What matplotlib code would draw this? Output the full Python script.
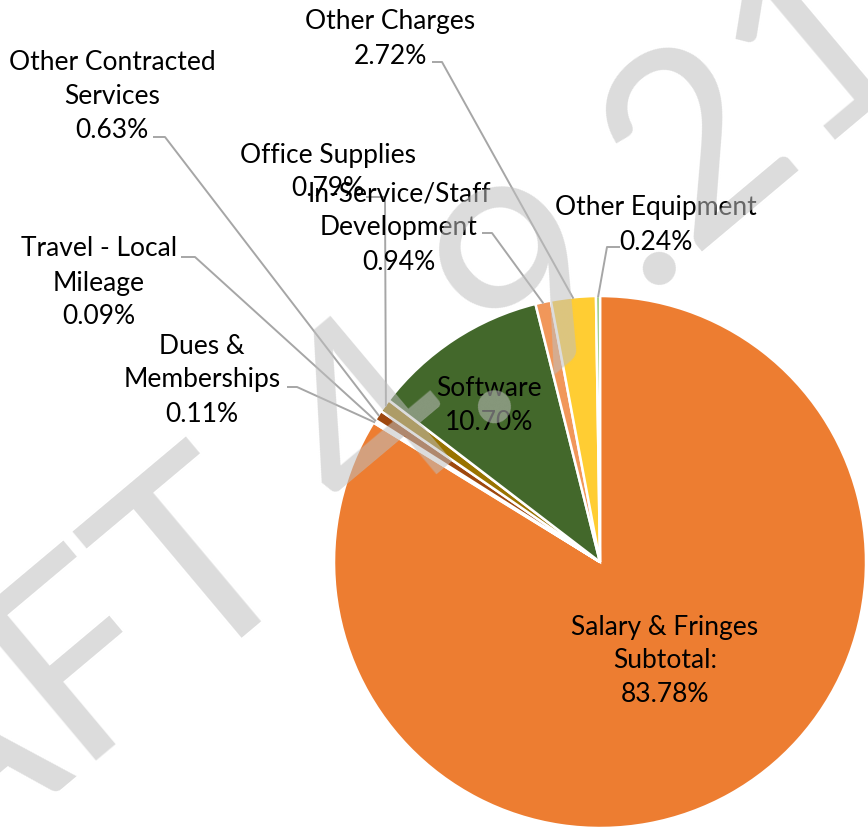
import math
import matplotlib
matplotlib.use("Agg")
import matplotlib.pyplot as plt

W, H = 868, 831

categories = ["Salary & Fringes\nSubtotal:", "Dues &\nMemberships", "Travel - Local\nMileage",
              "Other Contracted\nServices", "Office Supplies", "Software",
              "In-Service/Staff\nDevelopment", "Other Charges", "Other Equipment"]
values = [83.78, 0.11, 0.09, 0.63, 0.79, 10.70, 0.94, 2.72, 0.24]
colors = ["#ED7D31", "#FFC000", "#70AD47", "#9E480E", "#997300", "#43682B",
          "#F1975A", "#FFCD33", "#8CC168"]

# label block centres (pixel coords, y from top)
label_pos = [(665, 661), (202, 380), (99, 283), (112, 97), (328, 172), (489, 405),
             (399, 228), (390, 39), (656, 225)]
# leader start points: (label side x, y), (elbow x)
leaders = {1: [(287, 387), (297, 387)],
           2: [(181, 257), (195, 257)],
           3: [(153, 137), (165, 137)],
           4: [(366, 197), (385, 197)],
           6: [(482, 233), (492, 233)],
           7: [(432, 62), (442, 62)],
           8: [(620, 247), (607, 247)]}

FONT = ["Lato", "DejaVu Sans"]

fig = plt.figure(figsize=(W / 100, H / 100), dpi=100)
ax = fig.add_axes([0, 0, 1, 1])

cx, cy, R = 600, 562, 266
expl = 6 / R
wedges, _ = ax.pie(values, colors=colors, startangle=90, counterclock=False,
                   center=(cx, H - cy), radius=R, explode=[expl] * len(values),
                   wedgeprops=dict(edgecolor="white", linewidth=1.8), frame=True)

ax.set_xlim(0, W)
ax.set_ylim(0, H)
ax.set_aspect("equal")
ax.axis("off")

for i, (cat, v) in enumerate(zip(categories, values)):
    x, y = label_pos[i]
    ax.text(x, H - y, f"{cat}\n{v:.2f}%", ha="center", va="center",
            fontsize=19, family=FONT, color="black", linespacing=1.45, zorder=5)
    if i in leaders:
        w = wedges[i]
        mid = math.radians((w.theta1 + w.theta2) / 2)
        ex = w.center[0] + w.r * 0.995 * math.cos(mid)
        ey = w.center[1] + w.r * 0.995 * math.sin(mid)
        (x0, y0), (x1, y1) = leaders[i]
        ax.plot([x0, x1, ex], [H - y0, H - y1, ey], color="#A6A6A6", lw=1.4,
                solid_capstyle="butt", zorder=4)

# watermark
ax.text(246, H - 537, "DRAFT 4.9.21", fontsize=190, family=FONT, color="#BFBFBF",
        alpha=0.55, rotation=40, rotation_mode="anchor", ha="center", va="center",
        zorder=10)

fig.savefig("out.png", dpi=100)
